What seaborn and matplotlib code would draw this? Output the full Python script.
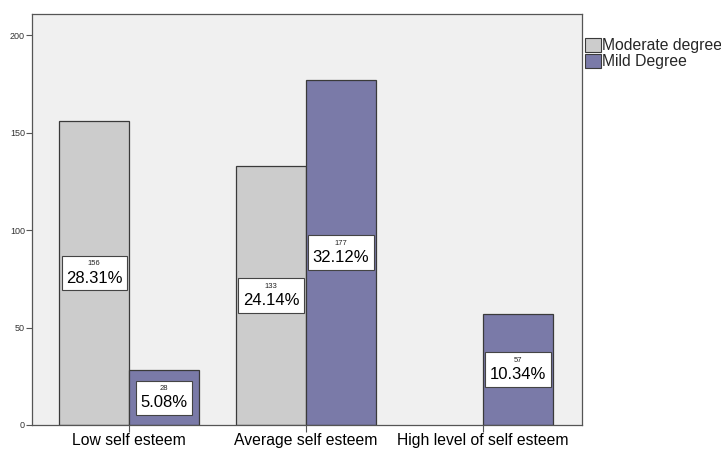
import matplotlib
matplotlib.use("Agg")
import matplotlib.pyplot as plt
import seaborn as sns
import pandas as pd
from matplotlib.offsetbox import TextArea, VPacker, AnnotationBbox

categories = ["Low self esteem", "Average self esteem", "High level of self esteem"]
series = ["Moderate degree", "Mild Degree"]
moderate_counts = [156, 133, None]
mild_counts = [28, 177, 57]
moderate_pct = ["28.31%", "24.14%", None]
mild_pct = ["5.08%", "32.12%", "10.34%"]
colors = ["#cccccc", "#7a7aa8"]

rows = []
for c, mc, mp, dc, dp in zip(categories, moderate_counts, moderate_pct, mild_counts, mild_pct):
    if mc is not None:
        rows.append(dict(cat=c, grp=series[0], n=mc, pct=mp))
    if dc is not None:
        rows.append(dict(cat=c, grp=series[1], n=dc, pct=dp))
df = pd.DataFrame(rows)

sns.set_style("white")
plt.rcParams["font.family"] = ["Liberation Sans", "DejaVu Sans"]

fig = plt.figure(figsize=(7.21, 4.5), dpi=100)
ax = fig.add_axes([32/721, 25/450, (582-32)/721, (425-14)/450])
ax.set_facecolor("#f0f0f0")

sns.barplot(data=df, x="cat", y="n", hue="grp", order=categories, hue_order=series,
            palette=colors, saturation=1, edgecolor="#3a3a3a", linewidth=0.9, width=0.79,
            errorbar=None, ax=ax, legend=True)

ax.set_xlim(-0.55, 2.56)
ax.set_ylim(0, 210.8)
ax.set_yticks([0, 50, 100, 150, 200])
ax.set_xlabel("")
ax.set_ylabel("")
ax.tick_params(axis="y", labelsize=6.5, length=4, width=0.8, color="#555555", labelcolor="#333333", pad=1)
ax.tick_params(axis="x", labelsize=11.3, length=5, width=0.8, color="#555555", labelcolor="black", pad=1, direction="out")
ax.tick_params(axis="both", bottom=True, left=True)
for s in ax.spines.values():
    s.set_color("#555555")
    s.set_linewidth(0.9)

# labels
for cont, grp in zip(ax.containers, series):
    sub = df[df.grp == grp].set_index("cat")
    cats_present = [c for c in categories if c in sub.index]
    for patch, c in zip(cont.patches, cats_present):
        h = patch.get_height()
        if h <= 0:
            continue
        x = patch.get_x() + patch.get_width() / 2
        t1 = TextArea(str(sub.loc[c, "n"]), textprops=dict(fontsize=5.5, color="#222222"))
        t2 = TextArea(sub.loc[c, "pct"], textprops=dict(fontsize=12, color="black"))
        box = VPacker(children=[t1, t2], align="center", pad=0, sep=2.5)
        ab = AnnotationBbox(box, (x, h / 2), xycoords="data", frameon=True, pad=0.32,
                            bboxprops=dict(facecolor="white", edgecolor="#444444", linewidth=0.8,
                                           boxstyle="square,pad=0.32"))
        ax.add_artist(ab)

leg = ax.legend(loc="upper left", bbox_to_anchor=(1.0, 0.95), frameon=False, fontsize=11.3,
                handlelength=1.0, handleheight=1.0, handletextpad=0.1, labelspacing=0.05,
                borderaxespad=0.1, borderpad=0.1)
for hnd in leg.legend_handles:
    hnd.set_edgecolor("#3a3a3a")
    hnd.set_linewidth(0.8)

fig.savefig("out.png", dpi=100, facecolor="white")
